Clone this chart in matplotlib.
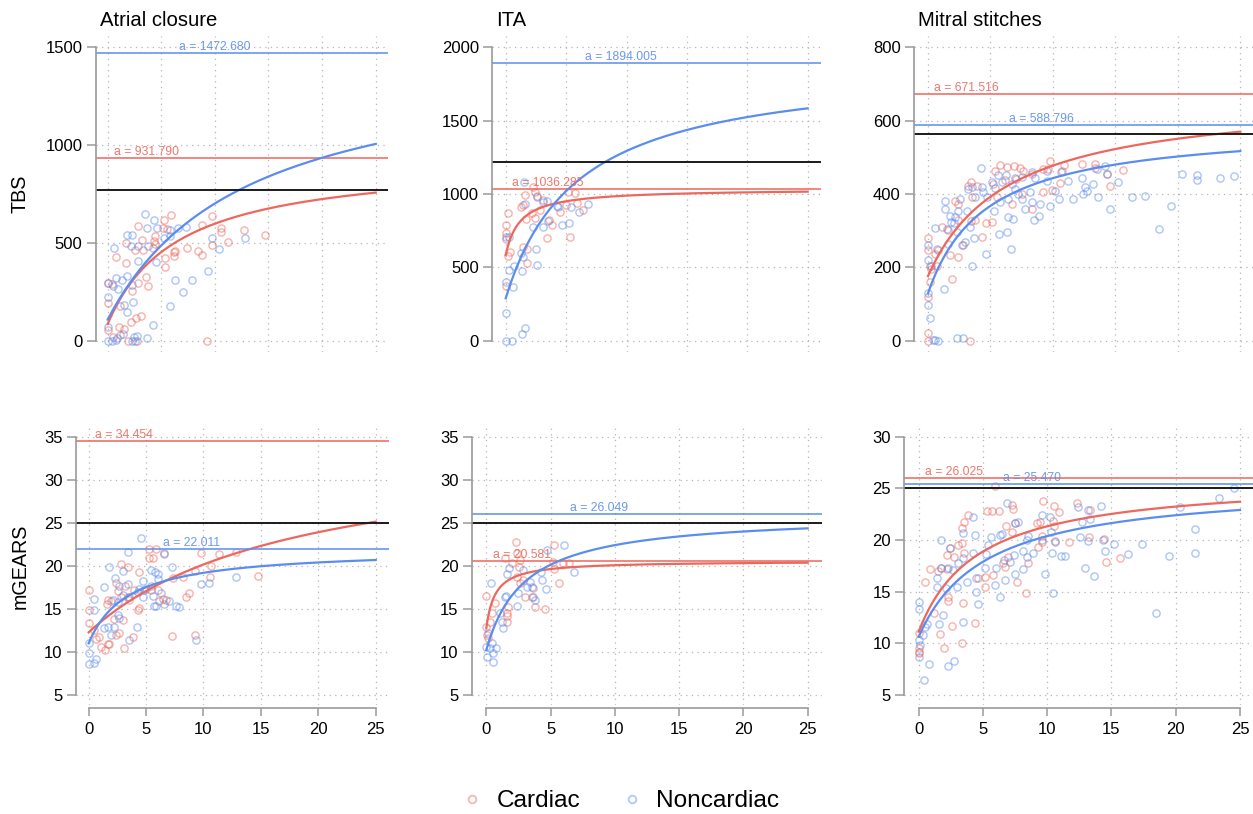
import numpy as np
import matplotlib.pyplot as plt
from matplotlib.lines import Line2D

plt.rcParams["font.family"] = ["Liberation Sans", "DejaVu Sans"]

W, H = 1253, 814
RED = "#EE675C"
BLUE = "#5B8DEF"
GRID = "#b5b5b5"
AXIS = "#9a9a9a"

SURGERIES = ["Atrial closure", "ITA", "Mitral stitches"]
SCORES = ["TBS", "mGEARS"]

# ---- scatter data (x, score) ----
TBS_ATRIAL_CARD = np.array([
    [5.90, 641], [5.28, 615], [2.86, 586], [5.19, 578], [5.50, 572], [9.69, 636], [8.76, 590],
    [10.6, 578], [10.6, 555], [12.7, 567], [14.7, 538], [11.2, 507], [9.69, 490], [8.39, 460],
    [8.76, 438], [3.17, 517], [4.35, 512], [1.68, 500], [2.55, 465], [3.32, 465], [4.41, 495],
    [4.25, 472], [6.27, 460], [6.21, 434], [7.36, 472], [5.34, 422], [5.34, 379], [0.75, 426],
    [1.68, 397], [3.57, 328], [2.86, 297], [0.06, 297], [0.37, 288], [2.30, 253], [3.79, 279],
    [0.06, 193], [1.15, 176], [1.06, 72], [2.17, 98], [2.61, 116], [3.11, 124], [1.55, 59],
    [0.53, 21], [1.15, 29], [1.86, 0], [2.70, 0], [9.22, 0], [6.21, 452], [4.41, 534], [0.06, 55]])
TBS_ATRIAL_NONC = np.array([
    [3.48, 650], [4.35, 615], [3.63, 578], [4.57, 578], [5.81, 564], [6.58, 578], [7.27, 581],
    [1.83, 538], [2.30, 541], [2.14, 486], [0.59, 472], [2.86, 486], [3.79, 486], [2.80, 409],
    [4.47, 400], [5.28, 524], [5.81, 534], [9.69, 524], [12.8, 524], [10.4, 469], [9.38, 357],
    [6.27, 310], [7.83, 309], [7.05, 248], [0.75, 322], [1.30, 310], [1.77, 331], [0.06, 297],
    [0.53, 279], [0.99, 262], [2.30, 283], [0.06, 222], [1.55, 184], [2.39, 197], [1.77, 145],
    [5.81, 176], [4.25, 78], [0.06, 72], [1.46, 34], [2.70, 24], [3.63, 12], [2.55, 0],
    [0.0, 0], [0.37, 0], [0.75, 3], [2.24, 0], [0.84, 12], [2.48, 17]])

TBS_ITA_CARD = np.array([
    [2.29, 1050], [2.42, 1016], [1.60, 993], [2.62, 986], [3.11, 959], [1.46, 925], [1.24, 909],
    [2.15, 868], [2.84, 891], [1.68, 830], [2.42, 834], [0.22, 868], [0.0, 789], [0.0, 736],
    [0.0, 691], [0.36, 607], [0.22, 577], [1.40, 641], [1.79, 532], [1.74, 623], [0.0, 373],
    [3.44, 698], [3.80, 789], [3.61, 823], [4.49, 880], [5.18, 1016], [5.73, 1005], [5.32, 705],
    [4.99, 925], [5.92, 936], [6.42, 891]])
TBS_ITA_NONC = np.array([
    [1.52, 1080], [1.60, 930], [2.56, 982], [3.06, 943], [3.39, 955], [4.21, 918], [4.35, 914],
    [5.40, 914], [6.09, 880], [6.78, 932], [5.26, 805], [4.63, 789], [3.11, 773], [2.29, 773],
    [3.53, 818], [0.0, 705], [0.30, 705], [2.51, 623], [2.56, 516], [1.24, 595], [1.46, 568],
    [0.69, 509], [0.30, 482], [1.38, 477], [0.0, 402], [0.58, 368], [0.0, 191], [1.60, 84],
    [1.38, 45], [0.0, 0], [0.50, 0]])

TBS_MITRAL_CARD = np.array([
    [5.76, 480], [6.30, 474], [6.91, 477], [7.37, 471], [5.36, 463], [5.23, 427], [6.16, 438],
    [7.02, 441], [7.63, 463], [8.30, 454], [9.23, 468], [9.77, 491], [9.63, 468], [10.70, 463],
    [10.92, 480], [12.30, 481], [13.37, 483], [13.37, 472], [14.30, 454], [15.64, 465],
    [14.57, 423], [10.57, 429], [9.90, 411], [9.23, 405], [7.50, 400], [6.70, 373], [8.30, 359],
    [5.50, 391], [3.23, 423], [3.44, 432], [3.90, 423], [2.16, 382], [2.38, 373], [3.50, 391],
    [1.09, 310], [1.63, 302], [2.38, 328], [3.44, 326], [3.76, 328], [4.62, 320], [5.15, 323],
    [4.30, 284], [0.03, 281], [0.03, 246], [0.83, 246], [1.76, 233], [2.38, 228], [2.83, 260],
    [0.24, 196], [0.16, 160], [1.95, 167], [0.03, 119], [0.0, 22], [0.03, 0], [3.36, 0],
    [0.69, 205], [0.56, 237], [0.16, 205]])
TBS_MITRAL_NONC = np.array([
    [4.24, 472], [5.63, 453], [6.22, 453], [6.97, 445], [7.55, 447], [8.30, 459], [5.95, 432],
    [6.70, 427], [5.36, 416], [4.43, 405], [4.30, 420], [3.50, 418], [3.23, 414], [2.56, 386],
    [1.36, 382], [1.36, 359], [1.76, 341], [2.43, 355], [3.10, 355], [1.84, 325], [2.11, 320],
    [2.30, 296], [1.49, 305], [0.56, 308], [0.03, 260], [0.69, 251], [0.03, 219], [0.24, 205],
    [3.50, 203], [3.71, 281], [4.64, 237], [5.71, 291], [6.30, 296], [6.65, 250], [6.38, 338],
    [6.78, 332], [5.31, 355], [5.76, 377], [6.43, 386], [7.50, 386], [7.77, 359], [8.30, 377],
    [8.97, 373], [8.49, 329], [8.89, 340], [9.77, 368], [8.17, 405], [9.50, 436], [10.17, 409],
    [10.49, 386], [10.62, 459], [11.24, 436], [11.64, 386], [12.30, 445], [12.44, 400],
    [12.57, 420], [12.70, 409], [13.24, 427], [13.64, 393], [13.50, 468], [14.17, 477],
    [14.30, 454], [15.24, 434], [14.57, 359], [16.31, 391], [17.37, 395], [19.46, 368],
    [18.49, 305], [20.31, 454], [21.51, 453], [21.51, 438], [23.38, 445], [24.53, 450],
    [0.03, 129], [0.03, 97], [0.16, 62], [1.31, 142], [0.43, 2], [0.83, 0], [2.30, 6],
    [2.83, 8], [5.10, 432], [6.97, 414], [7.23, 400], [8.57, 445], [9.50, 462], [4.70, 391],
    [3.76, 391], [2.16, 337], [1.63, 264], [2.70, 260], [3.36, 310], [2.96, 269], [0.56, 2]])

GEARS_ATRIAL_CARD = np.array([
    [5.29, 21.91], [5.87, 21.91], [5.23, 20.95], [5.58, 20.88], [2.82, 20.27], [4.42, 19.24],
    [3.40, 19.81], [2.38, 17.98], [3.20, 17.71], [2.53, 17.06], [1.66, 15.99], [1.95, 15.92],
    [0.0, 17.21], [0.06, 14.92], [0.0, 13.32], [1.57, 15.61], [3.40, 16.37], [3.98, 17.14],
    [5.00, 17.33], [5.44, 17.14], [6.02, 17.21], [6.45, 16.18], [6.16, 15.92], [6.74, 15.99],
    [7.33, 18.59], [8.49, 16.37], [8.78, 16.83], [8.20, 18.66], [9.22, 19.43], [9.80, 21.53],
    [11.34, 21.41], [12.85, 21.64], [10.67, 20.00], [10.58, 18.74], [14.74, 18.85],
    [4.42, 15.15], [4.27, 14.92], [7.27, 11.87], [9.22, 11.91], [3.11, 10.46], [1.66, 10.95],
    [1.08, 10.53], [0.49, 12.56], [0.93, 11.79], [0.64, 11.49], [2.38, 11.98], [2.67, 12.18],
    [3.84, 11.79], [1.80, 10.95], [1.45, 10.27], [2.24, 13.78], [2.97, 13.70], [3.55, 15.99],
    [2.82, 16.37], [6.60, 21.53]])
GEARS_ATRIAL_NONC = np.array([
    [4.56, 23.24], [3.40, 21.60], [6.60, 21.34], [1.80, 19.81], [2.97, 19.43], [7.27, 19.92],
    [5.81, 19.24], [6.02, 19.05], [5.44, 19.50], [2.33, 18.59], [3.40, 17.90], [2.67, 17.71],
    [1.37, 17.52], [4.42, 17.33], [4.27, 16.95], [3.55, 16.37], [4.85, 17.14], [5.58, 16.45],
    [6.31, 16.83], [5.87, 15.31], [6.60, 15.53], [7.03, 15.88], [7.62, 15.31], [7.91, 15.23],
    [5.73, 15.31], [2.15, 15.99], [2.53, 15.80], [0.49, 16.11], [0.49, 14.85], [2.53, 14.27],
    [2.67, 13.89], [1.37, 12.75], [1.66, 12.86], [2.24, 12.94], [1.95, 11.98], [4.19, 12.94],
    [0.06, 11.03], [3.55, 11.41], [0.06, 9.89], [0.0, 8.55], [0.49, 8.66], [0.64, 9.20],
    [9.36, 11.41], [10.47, 17.98], [9.80, 17.90], [12.79, 18.74], [5.44, 17.71], [6.02, 18.47],
    [4.71, 18.28], [2.97, 16.56], [4.71, 16.37]])

GEARS_ITA_CARD = np.array([
    [2.31, 22.80], [5.26, 22.42], [1.45, 20.87], [2.36, 21.45], [1.97, 20.29], [2.62, 20.68],
    [2.36, 18.74], [2.56, 19.90], [2.88, 18.35], [5.26, 19.59], [5.67, 18.04], [5.21, 20.48],
    [5.98, 20.29], [6.45, 20.37], [3.01, 16.42], [3.65, 17.38], [3.78, 15.26], [3.52, 16.42],
    [4.56, 14.95], [1.71, 15.26], [1.63, 14.48], [1.63, 13.51], [0.0, 16.49], [0.0, 12.93],
    [0.03, 11.96], [0.16, 11.58], [0.28, 13.51], [0.41, 14.48], [0.67, 15.64], [1.58, 14.17],
    [2.62, 17.97]])
GEARS_ITA_NONC = np.array([
    [4.69, 21.84], [6.04, 22.42], [6.81, 19.24], [4.30, 18.35], [4.64, 17.27], [3.65, 16.42],
    [3.39, 18.16], [3.13, 17.58], [2.88, 19.51], [1.79, 19.79], [1.58, 19.01], [1.45, 16.42],
    [1.53, 16.49], [1.06, 14.48], [1.32, 12.74], [1.19, 13.51], [2.41, 15.33], [2.49, 16.80],
    [3.78, 16.03], [0.34, 18.04], [0.0, 10.61], [0.28, 10.42], [0.03, 9.45], [0.49, 8.87],
    [0.75, 10.42], [0.49, 9.84], [0.41, 11.0], [0.16, 12.16], [3.52, 17.58], [4.22, 19.32]])

GEARS_MITRAL_CARD = np.array([
    [5.93, 25.23], [5.28, 22.84], [5.73, 22.84], [6.24, 22.84], [7.28, 23.39], [7.36, 22.97],
    [9.69, 23.81], [10.54, 23.29], [10.91, 22.74], [12.28, 23.61], [13.32, 22.90],
    [10.47, 21.87], [10.54, 21.35], [9.43, 21.77], [9.17, 21.68], [7.49, 21.68], [6.76, 21.35],
    [7.23, 20.81], [3.86, 22.42], [3.55, 21.77], [3.39, 21.13], [3.34, 19.74], [3.08, 19.52],
    [2.44, 19.19], [2.18, 18.55], [1.74, 17.26], [0.88, 17.16], [0.49, 15.97], [1.48, 17.03],
    [2.18, 17.16], [2.77, 18.32], [3.55, 18.71], [4.64, 16.29], [5.16, 16.45], [5.80, 16.61],
    [5.16, 15.42], [6.71, 17.35], [6.58, 17.74], [6.97, 18.39], [7.62, 15.97], [8.32, 14.90],
    [8.52, 17.81], [9.25, 19.29], [9.56, 19.84], [10.60, 19.94], [11.68, 19.84], [13.26, 20.32],
    [14.43, 20.06], [14.56, 17.90], [15.65, 18.29], [3.47, 13.94], [1.66, 10.90], [1.99, 9.52],
    [2.62, 11.71], [3.34, 10.06], [4.38, 12.0], [2.31, 14.45], [2.25, 14.13], [1.22, 12.90],
    [0.0, 10.97], [0.0, 9.03], [0.0, 9.19], [0.0, 9.52], [9.61, 20.39]])
GEARS_MITRAL_NONC = np.array([
    [6.84, 23.61], [4.25, 22.19], [3.47, 20.65], [4.38, 20.48], [5.62, 20.32], [6.32, 20.48],
    [6.45, 20.58], [7.75, 21.77], [7.49, 21.68], [9.56, 22.42], [10.21, 22.26], [10.28, 20.81],
    [8.52, 20.39], [8.39, 20.00], [9.56, 20.00], [10.60, 19.84], [12.41, 23.23], [13.19, 22.90],
    [14.22, 23.29], [12.67, 21.77], [13.32, 22.0], [12.54, 20.32], [13.19, 19.94],
    [14.35, 20.00], [15.21, 19.58], [17.38, 19.61], [16.30, 18.61], [19.46, 18.45],
    [21.48, 21.03], [21.53, 18.71], [20.31, 23.16], [23.34, 24.03], [24.53, 25.0],
    [18.50, 12.97], [14.48, 18.94], [12.93, 17.32], [13.63, 16.55], [11.37, 18.45],
    [11.11, 18.45], [9.82, 16.68], [10.47, 14.84], [10.34, 18.77], [8.91, 18.71], [8.39, 18.32],
    [8.13, 17.16], [7.49, 16.68], [6.71, 16.13], [5.98, 17.26], [5.93, 15.68], [6.32, 14.45],
    [5.16, 17.26], [5.21, 18.65], [5.41, 19.52], [4.25, 18.77], [3.47, 18.23], [3.08, 17.74],
    [2.69, 17.10], [2.31, 17.26], [1.74, 20.00], [2.44, 19.19], [1.40, 16.29], [1.40, 15.48],
    [1.74, 17.32], [2.10, 15.32], [2.95, 15.42], [4.46, 16.35], [4.43, 14.97], [4.64, 13.81],
    [3.73, 15.97], [3.47, 12.10], [1.87, 12.74], [1.58, 11.84], [0.62, 11.87], [0.49, 11.61],
    [0.36, 10.81], [0.05, 14.03], [0.0, 13.29], [0.0, 10.32], [0.10, 9.84], [0.0, 8.71],
    [0.80, 7.97], [2.25, 7.81], [2.77, 8.32], [0.44, 6.45], [6.66, 18.06], [7.10, 17.90],
    [7.44, 18.55], [8.13, 18.97]])

# ---- fitted curves: plateau a (printed), start value c and half-saturation b ----
# order: TBS atrial, TBS ITA, TBS mitral, mGEARS atrial, mGEARS ITA, mGEARS mitral
A_CARD = [931.790, 1036.285, 671.516, 34.454, 20.581, 26.025]
A_NONC = [1472.680, 1894.005, 588.796, 22.011, 26.049, 25.470]
C_CARD = [85, 584, 176, 12.28, 12.74, 11.13]
C_NONC = [108, 289, 129, 11.0, 10.23, 10.64]
B_CARD = [6.50, 1.17, 6.44, 18.14, 0.69, 4.60]
B_NONC = [12.99, 5.98, 4.63, 3.44, 2.99, 5.22]
REFERENCE = [769, 1220, 565, 25, 25, 25]

Y_RANGE = [(0, 1500), (0, 2000), (0, 800), (5, 35), (5, 35), (5, 30)]
Y_STEP = [500, 500, 200, 5, 5, 5]
X_TICKS = [0, 5, 10, 15, 20, 25]

SCATTER = [
    (TBS_ATRIAL_CARD, TBS_ATRIAL_NONC), (TBS_ITA_CARD, TBS_ITA_NONC),
    (TBS_MITRAL_CARD, TBS_MITRAL_NONC), (GEARS_ATRIAL_CARD, GEARS_ATRIAL_NONC),
    (GEARS_ITA_CARD, GEARS_ITA_NONC), (GEARS_MITRAL_CARD, GEARS_MITRAL_NONC)]

# panel boxes in pixels: left, right, top, bottom
BOXES = [(95.7, 387.7, 35.6, 352.4), (492.2, 821.2, 35.6, 352.4), (914.0, 1254.3, 35.6, 352.4),
         (75.8, 388.6, 426.4, 705.3), (471.9, 822.1, 426.4, 705.3), (904.3, 1254.4, 426.4, 705.3)]
LABEL_X = [(3.6, 10.0), (3.5, 9.5), (3.1, 9.1), (3.1, 9.0), (2.75, 8.8), (2.75, 8.8)]

fig = plt.figure(figsize=(W / 100, H / 100), dpi=100)
xs = np.linspace(0, 25, 300)

for i in range(6):
    l, r, t, b = BOXES[i]
    ax = fig.add_axes([l / W, 1 - b / H, (r - l) / W, (b - t) / H])
    lo, hi = Y_RANGE[i]
    pad = 0.04 * (hi - lo)
    ax.set_xlim(-1.12, 26.12)
    ax.set_ylim(lo - pad, hi + pad)
    ax.set_yticks(np.arange(lo, hi + 1e-9, Y_STEP[i]))
    ax.set_xticks(X_TICKS)
    ax.grid(True, linestyle=(0, (1, 3.5)), color=GRID, linewidth=0.9)
    ax.set_axisbelow(True)

    for s in ("top", "right"):
        ax.spines[s].set_visible(False)
    ax.spines["left"].set_bounds(lo, hi)
    ax.spines["left"].set_color(AXIS)
    ax.spines["left"].set_linewidth(1.2)
    ax.tick_params(axis="y", length=6.5, width=1.1, color=AXIS, labelsize=12, pad=3)
    if i < 3:
        ax.spines["bottom"].set_visible(False)
        ax.tick_params(axis="x", length=0, labelbottom=False)
    else:
        ax.spines["bottom"].set_bounds(0, 25)
        ax.spines["bottom"].set_position(("outward", 2.2))
        ax.spines["bottom"].set_color(AXIS)
        ax.spines["bottom"].set_linewidth(1.2)
        ax.tick_params(axis="x", length=5.5, width=1.1, color=AXIS, labelsize=12, pad=4)

    card, nonc = SCATTER[i]
    ax.plot(card[:, 0], card[:, 1], "o", mfc="none", mec=RED, alpha=0.5, ms=5.2, mew=1.0)
    ax.plot(nonc[:, 0], nonc[:, 1], "o", mfc="none", mec=BLUE, alpha=0.5, ms=5.2, mew=1.0)

    for a, c, bb, col, lx in ((A_CARD[i], C_CARD[i], B_CARD[i], RED, LABEL_X[i][0]),
                              (A_NONC[i], C_NONC[i], B_NONC[i], BLUE, LABEL_X[i][1])):
        ax.axhline(a, color=col, lw=1.3, alpha=0.85)
        ax.text(lx, a, f"a = {a:.3f}", color=col, fontsize=8.8, ha="center",
                va="bottom", alpha=0.9)
        ax.plot(xs, c + (a - c) * xs / (bb + xs), color=col, lw=1.6)
    ax.axhline(REFERENCE[i], color="#1a1a1a", lw=1.4)

for j, title in enumerate(SURGERIES):
    fig.text((BOXES[j][0] + 4) / W, 1 - 20 / H, title, fontsize=14.6, ha="left", va="center")

fig.text(19.5 / W, 1 - 194 / H, SCORES[0], fontsize=14.2, rotation=90, ha="center", va="center")
fig.text(20 / W, 1 - 566 / H, SCORES[1], fontsize=14.2, rotation=90, ha="center", va="center")

handles = [Line2D([], [], ls="none", marker="o", mfc="none", mec=RED, alpha=0.45, ms=5.5, mew=1.4),
           Line2D([], [], ls="none", marker="o", mfc="none", mec=BLUE, alpha=0.45, ms=5.5, mew=1.4)]
fig.legend(handles, ["Cardiac", "Noncardiac"], loc="center", ncol=2, frameon=False,
           bbox_to_anchor=(619.5 / W, 1 - 801 / H), fontsize=17.6, handlelength=1.0,
           handletextpad=0.48, columnspacing=1.63, borderpad=0, borderaxespad=0)

fig.savefig("out.png", dpi=100)
